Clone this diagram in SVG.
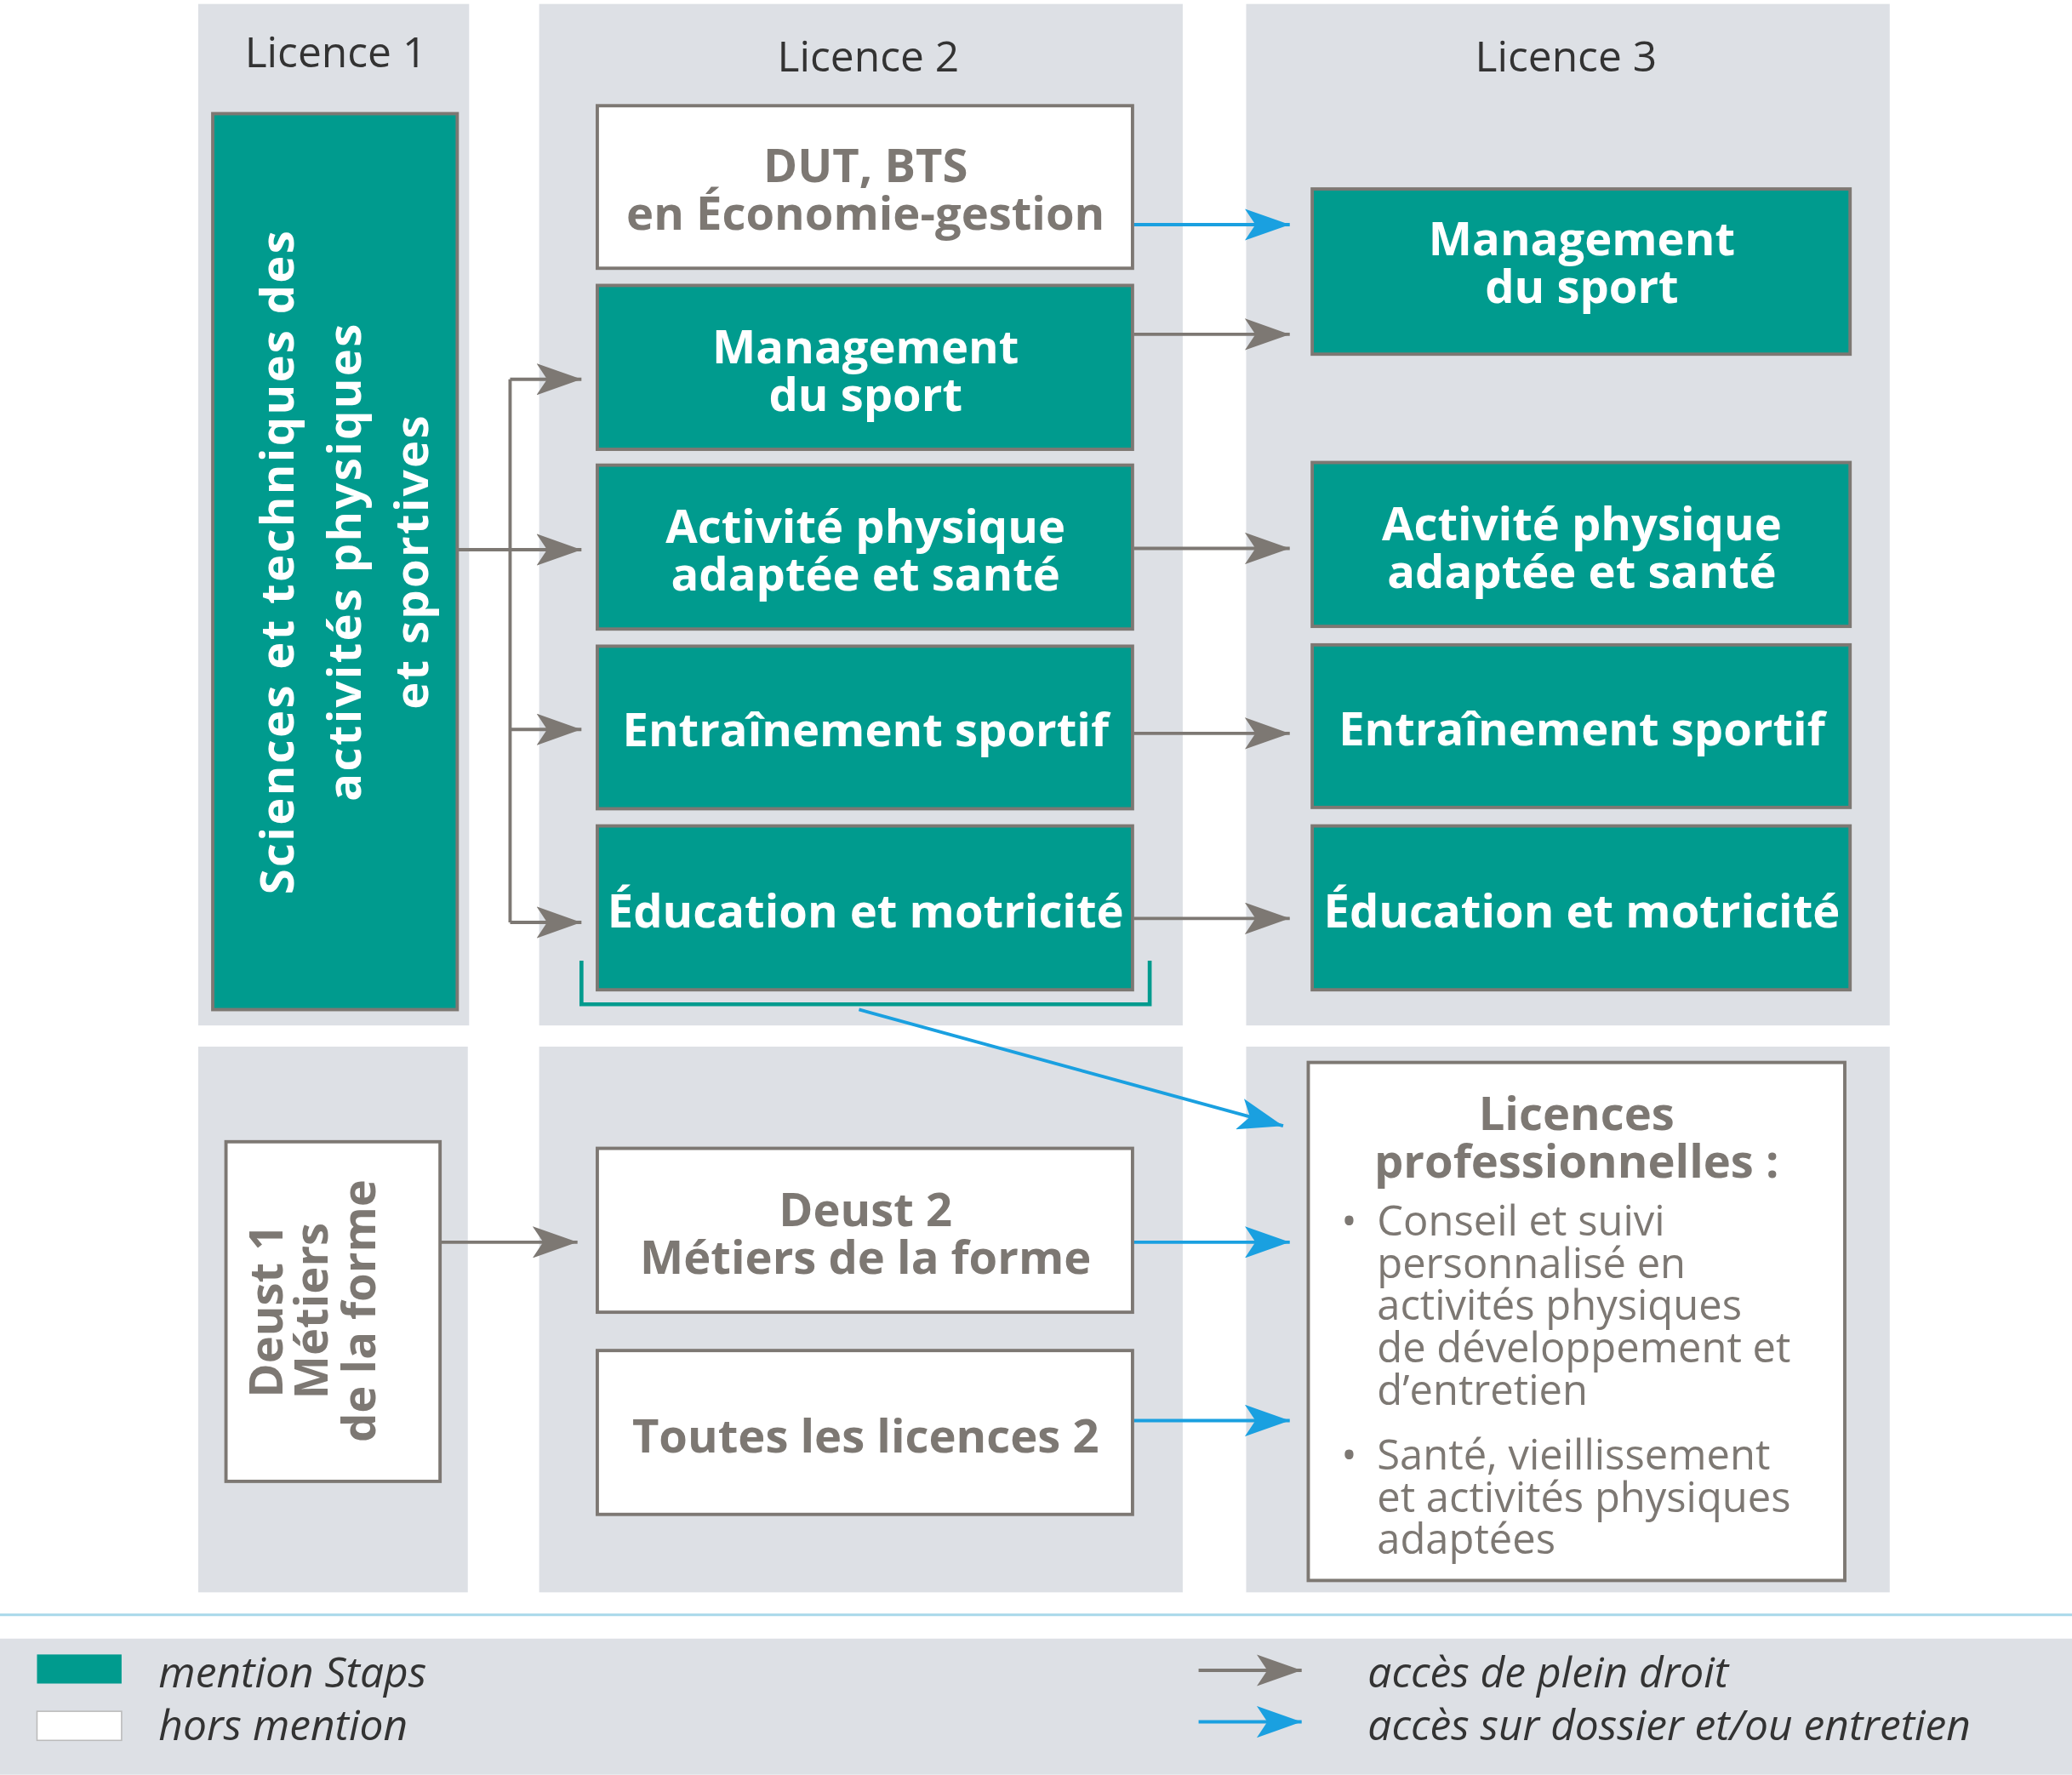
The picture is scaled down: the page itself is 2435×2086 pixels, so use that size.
<svg xmlns="http://www.w3.org/2000/svg" width="2435" height="2086" viewBox="0 0 2435 2086">
<defs>
<style>
.pan{fill:#dde0e5}
.teal{fill:#009b8e;stroke:#7d7873;stroke-width:2.5}
.wh{fill:#fff;stroke:#7d7873;stroke-width:2.5}
.hd{font-family:"Open Sans","Liberation Sans",sans-serif;font-size:32px;fill:#333;text-anchor:middle}
.bt{font-family:"Open Sans","Liberation Sans",sans-serif;font-size:35px;font-weight:bold;fill:#fff;text-anchor:middle}
.gt{font-family:"Open Sans","Liberation Sans",sans-serif;font-size:35px;font-weight:bold;fill:#7d7873;text-anchor:middle}
.pt{font-family:"Open Sans","Liberation Sans",sans-serif;font-size:31.5px;fill:#7d7873}
.lg{font-family:"Open Sans","Liberation Sans",sans-serif;font-size:32px;font-style:italic;fill:#333}
.ga{stroke:#7d7873;stroke-width:2.5;fill:none;marker-end:url(#mg)}
.ba{stroke:#1aa0e0;stroke-width:2.5;fill:none;marker-end:url(#mb)}
</style>
<marker id="mg" markerUnits="userSpaceOnUse" viewBox="0 0 34 24" refX="34" refY="12" markerWidth="34" markerHeight="24" orient="auto"><path d="M0,0 L34,12 L0,24 L8,12 Z" fill="#7d7873"/></marker>
<marker id="mb" markerUnits="userSpaceOnUse" viewBox="0 0 34 24" refX="34" refY="12" markerWidth="34" markerHeight="24" orient="auto"><path d="M0,0 L34,12 L0,24 L8,12 Z" fill="#1aa0e0"/></marker>
</defs>
<rect width="2435" height="2086" fill="#fff"/>
<g transform="scale(1.553)">
<g id="panels">
<rect class="pan" x="150" y="3" width="205" height="773"/>
<rect class="pan" x="408" y="3" width="487" height="773"/>
<rect class="pan" x="943" y="3" width="487" height="773"/>
<rect class="pan" x="150" y="792" width="204" height="413"/>
<rect class="pan" x="408" y="792" width="487" height="413"/>
<rect class="pan" x="943" y="792" width="487" height="413"/>
<line x1="0" y1="1222" x2="1568" y2="1222" stroke="#a8d8ea" stroke-width="2"/>
<rect class="pan" x="0" y="1240" width="1568" height="103"/>
<text class="hd" x="254" y="51">Licence 1</text>
<text class="hd" x="657" y="54">Licence 2</text>
<text class="hd" x="1185" y="54">Licence 3</text>
</g>
<g id="connectors">
<polyline class="ga" points="346,416 386,416 440,416"/>
<polyline points="386,287 386,698" stroke="#7d7873" stroke-width="2.5" fill="none"/>
<polyline class="ga" points="386,287 440,287"/>
<polyline class="ga" points="386,552 440,552"/>
<polyline class="ga" points="386,698 440,698"/>
<line class="ba" x1="858" y1="170" x2="976" y2="170"/>
<line class="ga" x1="858" y1="253" x2="976" y2="253"/>
<line class="ga" x1="858" y1="415" x2="976" y2="415"/>
<line class="ga" x1="858" y1="555" x2="976" y2="555"/>
<line class="ga" x1="858" y1="695" x2="976" y2="695"/>
<polyline points="440,727 440,760 870,760 870,727" stroke="#009b8e" stroke-width="3" fill="none"/>
<line class="ba" x1="650" y1="764" x2="971" y2="852"/>
<line class="ga" x1="333" y1="940" x2="437" y2="940"/>
<line class="ba" x1="858" y1="940" x2="976" y2="940"/>
<line class="ba" x1="858" y1="1075" x2="976" y2="1075"/>
</g>
<g id="n-staps">
<rect class="teal" x="161" y="86" width="185" height="678"/>
<text class="bt" font-size="42" letter-spacing="1.5" transform="translate(222,425) rotate(-90)"><tspan x="0" y="0">Sciences et techniques des</tspan><tspan x="0" y="51">activités physiques</tspan><tspan x="0" y="102">et sportives</tspan></text>
</g>
<g id="n-dut"><rect class="wh" x="452" y="80" width="405" height="123"/>
<text class="gt" x="655" y="138">DUT, BTS</text><text class="gt" x="655" y="174">en Économie-gestion</text></g>
<g id="n-mgt2"><rect class="teal" x="452" y="216" width="405" height="124"/>
<text class="bt" x="655" y="275">Management</text><text class="bt" x="655" y="311">du sport</text></g>
<g id="n-apa2"><rect class="teal" x="452" y="352" width="405" height="124"/>
<text class="bt" x="655" y="411">Activité physique</text><text class="bt" x="655" y="447">adaptée et santé</text></g>
<g id="n-ent2"><rect class="teal" x="452" y="489" width="405" height="123"/>
<text class="bt" x="655" y="565">Entraînement sportif</text></g>
<g id="n-edu2"><rect class="teal" x="452" y="625" width="405" height="124"/>
<text class="bt" x="655" y="702">Éducation et motricité</text></g>
<g id="n-mgt3"><rect class="teal" x="993" y="143" width="407" height="125"/>
<text class="bt" x="1197" y="193">Management</text><text class="bt" x="1197" y="229">du sport</text></g>
<g id="n-apa3"><rect class="teal" x="993" y="350" width="407" height="124"/>
<text class="bt" x="1197" y="409">Activité physique</text><text class="bt" x="1197" y="445">adaptée et santé</text></g>
<g id="n-ent3"><rect class="teal" x="993" y="488" width="407" height="123"/>
<text class="bt" x="1197" y="564">Entraînement sportif</text></g>
<g id="n-edu3"><rect class="teal" x="993" y="625" width="407" height="124"/>
<text class="bt" x="1197" y="702">Éducation et motricité</text></g>
<g id="n-deust1"><rect class="wh" x="171" y="864" width="162" height="257"/>
<text class="gt" transform="translate(214,992) rotate(-90)"><tspan x="0" y="0">Deust 1</tspan><tspan x="0" y="34">Métiers</tspan><tspan x="0" y="70">de la forme</tspan></text></g>
<g id="n-deust2"><rect class="wh" x="452" y="869" width="405" height="124"/>
<text class="gt" x="655" y="928">Deust 2</text><text class="gt" x="655" y="964">Métiers de la forme</text></g>
<g id="n-toutes"><rect class="wh" x="452" y="1022" width="405" height="124"/>
<text class="gt" x="655" y="1099">Toutes les licences 2</text></g>
<g id="n-pro"><rect class="wh" x="990" y="804" width="406" height="392"/>
<text class="gt" x="1193" y="855">Licences</text><text class="gt" x="1193" y="891">professionnelles :</text>
<text class="pt"><tspan x="1015" y="935">•</tspan><tspan x="1042" y="935">Conseil et suivi</tspan><tspan x="1042" y="967">personnalisé en</tspan><tspan x="1042" y="999">activités physiques</tspan><tspan x="1042" y="1031">de développement et</tspan><tspan x="1042" y="1063">d’entretien</tspan>
<tspan x="1015" y="1112">•</tspan><tspan x="1042" y="1112">Santé, vieillissement</tspan><tspan x="1042" y="1144">et activités physiques</tspan><tspan x="1042" y="1176">adaptées</tspan></text></g>
<g id="legend">
<rect x="28" y="1252" width="64" height="22" fill="#009b8e"/>
<rect x="28" y="1295" width="64" height="22" fill="#fff" stroke="#bbb" stroke-width="1"/>
<text class="lg" x="120" y="1277">mention  Staps</text>
<text class="lg" x="120" y="1317">hors mention</text>
<line class="ga" x1="907" y1="1264" x2="985" y2="1264"/>
<line class="ba" x1="907" y1="1303" x2="985" y2="1303"/>
<text class="lg" x="1035" y="1277">accès de plein droit</text>
<text class="lg" x="1035" y="1317">accès sur dossier et/ou entretien</text>
</g>
</g>
</svg>
